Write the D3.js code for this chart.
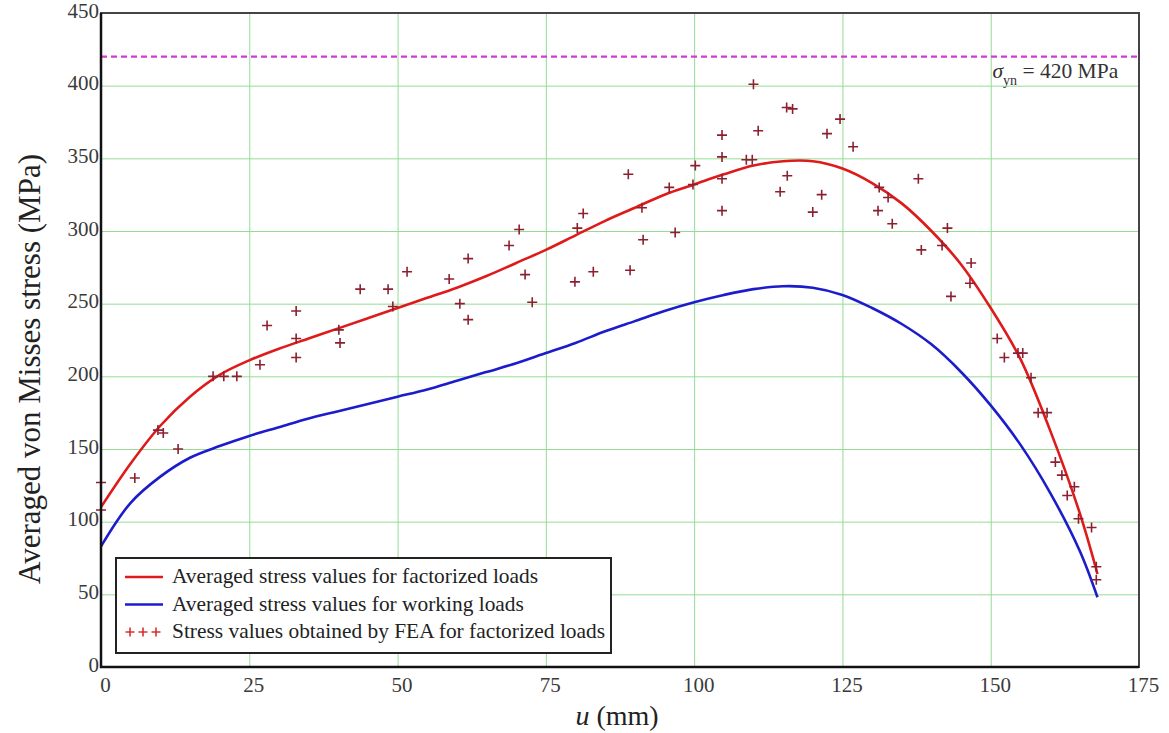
<!DOCTYPE html>
<html>
<head>
<meta charset="utf-8">
<script src="https://cdn.jsdelivr.net/npm/d3@7"></script>
<style>
  body { margin: 0; background: #fff; }
  text { font-family: "Liberation Serif", "Times New Roman", serif; }
</style>
</head>
<body>
<div id="chart"></div>
<script>
// ---- data ----
var uCurve = [0, 5, 10, 15, 20, 25, 30, 35, 40, 45, 50, 55, 60, 65, 70, 75, 80, 85, 90, 95,
              100, 105, 110, 115, 120, 125, 130, 135, 140, 145, 150, 155, 160, 165, 168];
var factorized = [110, 140, 166, 186, 201, 211, 219, 226, 233, 240, 247, 254, 261, 269, 278, 287, 297, 307, 316, 325,
                  332, 339, 345, 348, 348, 343, 333, 319, 300, 277, 247, 212, 163, 106, 64];
var working = [83, 113, 131, 144, 152, 159, 165, 171, 176, 181, 186, 191, 197, 203, 209, 216, 223, 231, 238, 245,
               251, 256, 260, 262, 261, 256, 247, 236, 222, 203, 180, 153, 120, 80, 48];

var feaU = [0, 0, 5.7, 9.6, 10.5, 13, 18.9, 20.7, 22.9, 26.8, 28, 32.9, 32.9, 32.9, 40.1, 40.3, 43.7, 48.4, 49.2, 51.6,
            58.7, 60.5, 61.9, 61.9, 68.8, 70.5, 71.5, 72.7, 79.9, 80.3, 81.3, 83, 88.9, 89.2, 91.2, 91.4, 95.8, 96.8,
            99.8, 100.2, 104.7, 104.7, 104.7, 104.7, 108.8, 109.8, 110, 110.8, 114.5, 115.7, 115.6, 116.6, 120, 121.5,
            122.4, 124.6, 126.8, 131.2, 132.7, 131, 133.4, 137.8, 138.3, 142.7, 141.8, 143.3, 146.7, 146.5,
            151.1, 152.3, 154.6, 155.4, 156.8, 158, 159.5, 160.9, 162, 162.9, 164.1, 164.8, 167, 167.8, 167.8];
var feaS = [127, 108, 130, 163, 161, 150, 200, 200, 200, 208, 235, 245, 226, 213, 232, 223, 260, 260, 248, 272,
            267, 250, 281, 239, 290, 301, 270, 251, 265, 302, 312, 272, 339, 273, 316, 294, 330, 299,
            332, 345, 366, 351, 336, 314, 349, 349, 401, 369, 327, 338, 385, 384, 313, 325,
            367, 377, 358, 330, 323, 314, 305, 336, 287, 302, 290, 255, 278, 264,
            226, 213, 216, 216, 199, 175, 175, 141, 132, 118, 124, 102, 96, 69, 60];

var xTicks = [0, 25, 50, 75, 100, 125, 150, 175];
var yTicks = [0, 50, 100, 150, 200, 250, 300, 350, 400, 450];
var yieldStress = 420;

var legendLabels = ["Averaged stress values for factorized loads",
                    "Averaged stress values for working loads",
                    "Stress values obtained by FEA for factorized loads"];

// ---- layout ----
var margin = {top: 13, right: 30, bottom: 66, left: 101},
    width = 1169 - margin.left - margin.right,
    height = 733 - margin.top - margin.bottom;

var svg = d3.select("#chart")
    .append("svg")
        .attr("width", 1169)
        .attr("height", 733)
    .append("g")
        .attr("transform", "translate(" + margin.left + "," + margin.top + ")");

var x = d3.scaleLinear().domain([0, 175]).range([0, width]);
var y = d3.scaleLinear().domain([0, 450]).range([height, 0]);

// grid
svg.append("g")
    .attr("class", "grid")
    .attr("transform", "translate(0," + height + ")")
    .call(d3.axisBottom(x).tickValues(xTicks).tickSize(-height).tickFormat(""));
svg.append("g")
    .attr("class", "grid")
    .call(d3.axisLeft(y).tickValues(yTicks).tickSize(-width).tickFormat(""));
svg.selectAll(".grid .domain").remove();
svg.selectAll(".grid line").attr("stroke", "#96da96").attr("stroke-width", 1);

// tick labels
var xAxis = svg.append("g")
    .attr("transform", "translate(0," + height + ")")
    .call(d3.axisBottom(x).tickValues(xTicks).tickSize(0).tickPadding(10));
var yAxis = svg.append("g")
    .call(d3.axisLeft(y).tickValues(yTicks).tickSize(0).tickPadding(2));
svg.selectAll(".domain").remove();
xAxis.attr("font-family", "Liberation Serif");
yAxis.attr("font-family", "Liberation Serif");
xAxis.selectAll("text").attr("font-size", 21).attr("fill", "#3a3a3a").attr("dx", 4);
yAxis.selectAll("text").attr("font-size", 21).attr("fill", "#3a3a3a").attr("dy", "0.2em");

// yield line
svg.append("line")
    .attr("x1", 0).attr("x2", width)
    .attr("y1", y(yieldStress)).attr("y2", y(yieldStress))
    .attr("stroke", "#d03cd0").attr("stroke-width", 2.2)
    .attr("stroke-dasharray", "6,4");

var ann = svg.append("text")
    .attr("x", x(150.3)).attr("y", y(yieldStress) + 21)
    .attr("font-size", 21.5).attr("fill", "#333");
ann.append("tspan").attr("font-style", "italic").text("σ");
ann.append("tspan").attr("font-size", 14).attr("dy", 7).text("yn");
ann.append("tspan").attr("dy", -7).text(" = 420 MPa");

// curves
var line = d3.line()
    .x(function(d) { return x(d[0]); })
    .y(function(d) { return y(d[1]); })
    .curve(d3.curveCatmullRom.alpha(0.5));

svg.append("path")
    .datum(uCurve.map(function(u, i) { return [u, working[i]]; }))
    .attr("fill", "none").attr("stroke", "#1c1ccc").attr("stroke-width", 2.6)
    .attr("d", line);

svg.append("path")
    .datum(uCurve.map(function(u, i) { return [u, factorized[i]]; }))
    .attr("fill", "none").attr("stroke", "#de1a1a").attr("stroke-width", 2.6)
    .attr("d", line);

// FEA points
var cross = function(cx, cy, s) {
    return "M" + (cx - s) + "," + cy + "H" + (cx + s) + "M" + cx + "," + (cy - s) + "V" + (cy + s);
};
svg.append("g").selectAll("path")
    .data(feaU.map(function(u, i) { return [u, feaS[i]]; }))
    .enter().append("path")
        .attr("d", function(d) { return cross(x(d[0]), y(d[1]), 5); })
        .attr("stroke", "#8c2030").attr("stroke-width", 1.6);

// frame
svg.append("rect")
    .attr("width", width).attr("height", height)
    .attr("fill", "none").attr("stroke", "#444").attr("stroke-width", 2);
svg.append("path")
    .attr("d", "M0,0V" + height + "H" + width)
    .attr("fill", "none").attr("stroke", "#111").attr("stroke-width", 2.5);

// axis titles
var xt = svg.append("text")
    .attr("x", 516).attr("y", 712)
    .attr("text-anchor", "middle").attr("font-size", 28).attr("fill", "#222");
xt.append("tspan").attr("font-style", "italic").text("u");
xt.append("tspan").text(" (mm)");

svg.append("text")
    .attr("transform", "translate(-61," + 356 + ") rotate(-90)")
    .attr("text-anchor", "middle").attr("font-size", 31).attr("fill", "#222")
    .text("Averaged von Misses stress (MPa)");

// legend
var legend = svg.append("g").attr("transform", "translate(15,545)");
legend.append("rect")
    .attr("width", 495).attr("height", 95)
    .attr("fill", "#fff").attr("stroke", "#222").attr("stroke-width", 2);

var legendColors = ["#de1a1a", "#1c1ccc"];
legendLabels.forEach(function(lbl, i) {
    var ly = 19 + i * 27.5;
    if (i < 2) {
        legend.append("line")
            .attr("x1", 9).attr("x2", 47).attr("y1", ly).attr("y2", ly)
            .attr("stroke", legendColors[i]).attr("stroke-width", 2.6);
    } else {
        [14, 27, 40].forEach(function(cx) {
            legend.append("path").attr("d", cross(cx, ly, 4.5))
                .attr("stroke", "#d83030").attr("stroke-width", 1.6);
        });
    }
    legend.append("text")
        .attr("x", 56).attr("y", ly + 6)
        .attr("font-size", 21.4).attr("fill", "#222")
        .text(lbl);
});
</script>
</body>
</html>
